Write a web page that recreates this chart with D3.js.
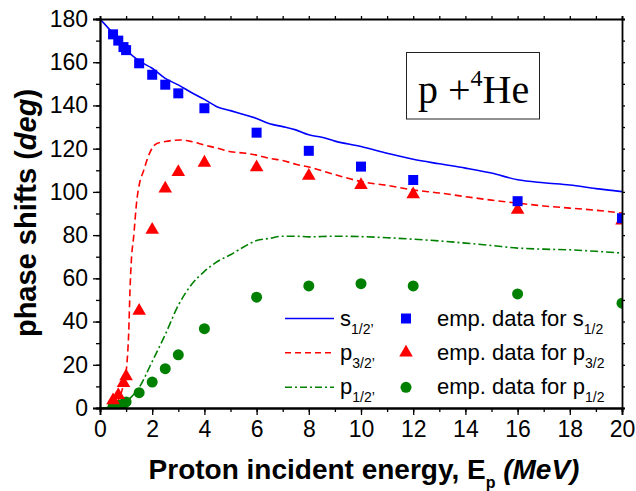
<!DOCTYPE html>
<html>
<head>
<meta charset="utf-8">
<script src="https://cdn.jsdelivr.net/npm/d3@7"></script>
<style>
  body { margin: 0; background: #fff; }
  text { font-family: Arial, "Liberation Sans", sans-serif; }
</style>
</head>
<body>
<svg width="636" height="491"></svg>
<script>
// empirical phase shifts (energies in MeV, shifts in deg)
var empEnergy = [0.5, 0.7, 0.9, 1.0, 1.5, 2, 2.5, 3, 4, 6, 8, 10, 12, 16, 20];
var empS12 = [172.9, 170, 167, 165.6, 159.5, 154.2, 149.6, 145.6, 138.7, 127.4, 119, 111.7, 105.5, 95.7, 87.8];
var empP32 = [3.5, 6, 11.5, 14.6, 45, 82.4, 101.5, 109.2, 113.5, 111.4, 107.4, 103.1, 98.9, 91.7, 86.7];
var empP12 = [0.8, 1.2, 2, 2.8, 7.1, 12, 18.2, 24.6, 36.7, 51.3, 56.5, 57.5, 56.5, 52.8, 48.5];

// calculated curves
var s12E = [0, 0.5, 1, 1.5, 2, 2.5, 3, 3.5, 4, 4.5, 5, 5.5, 6, 6.5, 7, 7.5, 8, 8.5, 9, 10, 11, 12, 13, 14, 15, 16, 17, 18, 19, 20];
var s12V = [180, 173.3, 165.8, 160.6, 157.2, 152.5, 149.5, 146, 142.8, 139.3, 137.6, 135.8, 134, 131.5, 130.2, 128.7, 126.4, 125.3, 123.5, 121, 117.9, 115.1, 113, 111, 108.7, 105.6, 104.2, 103.2, 101.5, 100.1];

var p32E = [0.2, 0.4, 0.6, 0.77, 0.9, 1.02, 1.1, 1.15, 1.21, 1.28, 1.41, 1.53, 1.66, 1.8, 2.04, 2.2, 2.5, 3.07, 3.5, 4, 4.5, 5, 5.5, 6, 6.5, 7, 7.5, 8, 9, 10, 11, 12, 13, 14, 15, 16, 17, 18, 19, 20];
var p32V = [0, 0.5, 2, 5.4, 11, 19, 35, 54.7, 70, 78, 96, 104.8, 109.4, 114.8, 121, 122.5, 123.3, 124, 123.3, 121.7, 120.2, 118.6, 118, 117, 115.5, 114.5, 112.8, 111.5, 108, 104.8, 103, 100.9, 99.5, 97.8, 96.2, 94.8, 93.5, 92.5, 91.5, 90.2];

var p12E = [0, 0.5, 1, 1.5, 2, 2.5, 3, 3.5, 4, 4.5, 5, 5.5, 6, 6.5, 7, 7.5, 8, 9, 10, 11, 12, 13, 14, 15, 16, 17, 18, 19, 20];
var p12V = [0, 0.5, 3, 9.5, 21.5, 34, 47.5, 57, 63.2, 67.8, 70.9, 74.5, 77.5, 78.5, 79.5, 79.5, 79.2, 79.5, 79.3, 78.8, 78.1, 77.3, 76.3, 75.2, 74, 73.5, 73.2, 72.5, 71.7];

var xTicks = [0, 2, 4, 6, 8, 10, 12, 14, 16, 18, 20];
var yTicks = [0, 20, 40, 60, 80, 100, 120, 140, 160, 180];

var legendLines = ["s", "p", "p"];
var legendSubs = ["1/2\u2019", "3/2\u2019", "1/2\u2019"];
var legendEmp = ["emp. data for s", "emp. data for p", "emp. data for p"];
var legendEmpSubs = ["1/2", "3/2", "1/2"];

var blue = "#0000ff", red = "#ff0000", green = "#008000";

var mLeft = 100, mRight = 622, mTop = 19, mBottom = 408;
var svg = d3.select("svg");

var x = d3.scaleLinear().domain([0, 20]).range([mLeft, mRight]);
var y = d3.scaleLinear().domain([0, 180]).range([mBottom, mTop]);

svg.append("clipPath").attr("id", "plot")
  .append("rect")
    .attr("x", mLeft).attr("y", mTop)
    .attr("width", mRight - mLeft).attr("height", mBottom - mTop);

var plot = svg.append("g").attr("clip-path", "url(#plot)");

// curves
function curve(es, vs) {
  return d3.line()
    .x(function(d, i) { return x(es[i]); })
    .y(function(d, i) { return y(vs[i]); })
    .curve(d3.curveMonotoneX)(vs);
}

plot.append("path").attr("d", curve(s12E, s12V))
  .attr("fill", "none").attr("stroke", blue).attr("stroke-width", 1.6);
plot.append("path").attr("d", curve(p32E, p32V))
  .attr("fill", "none").attr("stroke", red).attr("stroke-width", 1.6)
  .attr("stroke-dasharray", "7,4");
plot.append("path").attr("d", curve(p12E, p12V))
  .attr("fill", "none").attr("stroke", green).attr("stroke-width", 1.6)
  .attr("stroke-dasharray", "8,3,2,3");

// empirical markers
var sq = d3.symbol().type(d3.symbolSquare).size(100);
var tri = d3.symbol().type(d3.symbolTriangle).size(80);
var circ = d3.symbol().type(d3.symbolCircle).size(95);

function markers(vals, sym, color) {
  plot.append("g").selectAll("path")
    .data(vals)
    .enter()
    .append("path")
      .attr("d", sym)
      .attr("fill", color)
      .attr("transform", function(d, i) {
        return "translate(" + x(empEnergy[i]) + "," + y(d) + ")";
      });
}
markers(empP12, circ, green);
markers(empP32, tri, red);
markers(empS12, sq, blue);

// axes
var xMinor = d3.range(0, 21, 1);
var yMinor = d3.range(0, 181, 10);

svg.append("g")
  .attr("transform", "translate(0," + mBottom + ")")
  .call(d3.axisBottom(x).tickValues(xMinor).tickSize(4).tickFormat(""));
svg.append("g")
  .attr("transform", "translate(0," + mBottom + ")")
  .call(d3.axisBottom(x).tickValues(xTicks).tickSize(7).tickPadding(6).tickFormat(d3.format("d")));
svg.append("g")
  .attr("transform", "translate(" + mLeft + ",0)")
  .call(d3.axisLeft(y).tickValues(yMinor).tickSize(4).tickFormat(""));
svg.append("g")
  .attr("transform", "translate(" + mLeft + ",0)")
  .call(d3.axisLeft(y).tickValues(yTicks).tickSize(7).tickPadding(5).tickFormat(d3.format("d")));
svg.append("g")
  .attr("transform", "translate(0," + mTop + ")")
  .call(d3.axisTop(x).tickValues(xMinor).tickSize(3).tickFormat(""));
svg.append("g")
  .attr("transform", "translate(" + mRight + ",0)")
  .call(d3.axisRight(y).tickValues(yMinor).tickSize(3).tickFormat(""));

svg.selectAll(".domain").attr("stroke", "#000").attr("stroke-width", 1.8);
svg.selectAll(".tick line").attr("stroke", "#000").attr("stroke-width", 1.3);
svg.selectAll(".tick text").attr("font-size", 23).attr("fill", "#000");

// axis titles
var xt = svg.append("text")
  .attr("x", 364).attr("y", 479)
  .attr("text-anchor", "middle")
  .attr("font-size", 28).attr("font-weight", "bold");
xt.append("tspan").text("Proton incident energy, E");
xt.append("tspan").text("p").attr("font-size", 16).attr("dy", 9);
xt.append("tspan").text(" (MeV)").attr("font-style", "italic").attr("dy", -9);

var yt = svg.append("text")
  .attr("transform", "translate(36," + 213 + ") rotate(-90)")
  .attr("text-anchor", "middle")
  .attr("font-size", 29).attr("font-weight", "bold");
yt.append("tspan").text("phase shifts (");
yt.append("tspan").text("deg").attr("font-style", "italic");
yt.append("tspan").text(")");

// annotation box
svg.append("rect")
  .attr("x", 406.5).attr("y", 52.5).attr("width", 133).attr("height", 66.5)
  .attr("fill", "#fff").attr("stroke", "#222").attr("stroke-width", 1);
var ann = svg.append("text")
  .attr("x", 418).attr("y", 103)
  .style("font-family", "'Liberation Serif', 'DejaVu Serif', serif")
  .attr("font-size", 40);
ann.append("tspan").text("p +");
ann.append("tspan").text("4").attr("font-size", 24).attr("dy", -17);
ann.append("tspan").text("He").attr("dy", 17);

// legend
var rowsY = [318.5, 352.7, 387.3];
var lg = svg.append("g");
var styles = [
  {c: blue, dash: null},
  {c: red, dash: "6,4"},
  {c: green, dash: "7,3,2,3"}
];
var syms = [sq, tri, circ];
rowsY.forEach(function(ry, i) {
  lg.append("line")
    .attr("x1", 285).attr("x2", 334).attr("y1", ry).attr("y2", ry)
    .attr("stroke", styles[i].c).attr("stroke-width", 1.6)
    .attr("stroke-dasharray", styles[i].dash);
  var t = lg.append("text").attr("x", 340).attr("y", ry + 7).attr("font-size", 22);
  t.append("tspan").text(legendLines[i]);
  t.append("tspan").text(legendSubs[i]).attr("font-size", 14).attr("dy", 8);
  lg.append("path").attr("d", syms[i]).attr("fill", styles[i].c)
    .attr("transform", "translate(406," + ry + ")");
  var e = lg.append("text").attr("x", 437).attr("y", ry + 7).attr("font-size", 22);
  e.append("tspan").text(legendEmp[i]);
  e.append("tspan").text(legendEmpSubs[i]).attr("font-size", 14).attr("dy", 8);
});
</script>
</body>
</html>
